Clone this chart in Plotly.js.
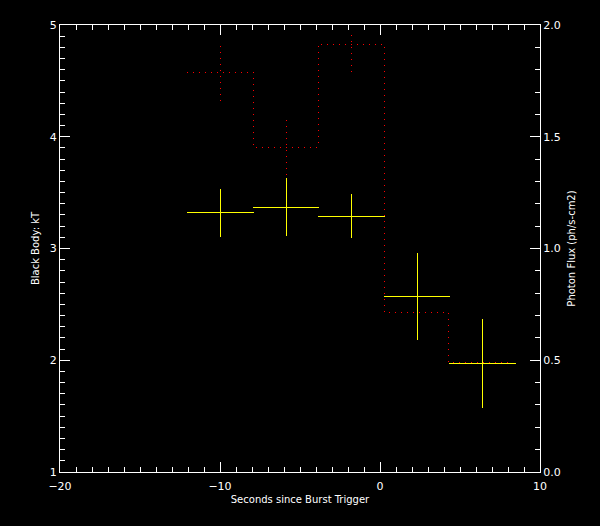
<!DOCTYPE html>
<html>
<head>
<meta charset="utf-8">
<script src="https://cdn.plot.ly/plotly-3.0.1.min.js"></script>
<style>
html,body{margin:0;padding:0;background:#000;}
#chart{width:600px;height:526px;}
.scatterlayer path{shape-rendering:crispEdges;}
</style>
</head>
<body>
<div id="chart"></div>
<script>
// Spectral fit: black body temperature (left axis)
const kTTime = [-9.98, -5.86, -1.79, 2.33, 6.39];
const kTTimeLo = [-12.06, -7.94, -3.875, 0.25, 4.31];
const kTTimeHi = [-7.9, -3.83, 0.31, 4.375, 8.5];
const kT = [3.32, 3.37, 3.29, 2.57, 1.97];
const kTHi = [3.53, 3.63, 3.49, 2.96, 2.37];
const kTLo = [3.10, 3.11, 3.09, 2.18, 1.57];

// Photon flux histogram (right axis); last two error bars are hidden under the crosses
const fluxEdges = [-12.04, -7.92, -3.85, 0.27, 4.3, 8.3];
const flux = [1.788, 1.453, 1.914, 0.713, 0.491];
const fluxCenter = [-9.98, -5.86, -1.79, 2.33, 6.39];
const fluxHi = [1.906, 1.575, 1.978, null, null];
const fluxLo = [1.661, 1.329, 1.788, null, null];

const xTitle = "Seconds since Burst Trigger";
const yTitle = "Black Body: kT";
const y2Title = "Photon Flux (ph/s-cm2)";

const red = '#ff0000', yellow = '#ffff00';

const histX = fluxEdges.slice();
const histY = flux.concat([flux[flux.length - 1]]);

const ebX = [], ebY = [];
fluxCenter.forEach((c, i) => {
  if (fluxHi[i] !== null) { ebX.push(c, c, null); ebY.push(fluxLo[i], fluxHi[i], null); }
});

const traces = [
  {x: histX, y: histY, yaxis: 'y2', type: 'scatter', mode: 'lines',
   line: {shape: 'hv', color: red, width: 1, dash: '1px,5px'}, hoverinfo: 'skip'},
  {x: ebX, y: ebY, yaxis: 'y2', type: 'scatter', mode: 'lines',
   line: {color: red, width: 1, dash: '1px,5px'}, hoverinfo: 'skip'},
  {x: kTTime, y: kT, type: 'scatter', mode: 'markers',
   marker: {size: 1, color: yellow},
   error_x: {type: 'data', symmetric: false,
     array: kTTimeHi.map((h, i) => h - kTTime[i]),
     arrayminus: kTTimeLo.map((l, i) => kTTime[i] - l),
     color: yellow, thickness: 1, width: 0},
   error_y: {type: 'data', symmetric: false,
     array: kTHi.map((h, i) => h - kT[i]),
     arrayminus: kTLo.map((l, i) => kT[i] - l),
     color: yellow, thickness: 1, width: 0}}
];

const font = {family: 'DejaVu Sans, sans-serif', size: 11, color: '#ffffff'};
const layout = {
  width: 600, height: 526,
  margin: {l: 60, r: 60, t: 25, b: 54},
  paper_bgcolor: '#000', plot_bgcolor: '#000',
  showlegend: false,
  font: font,
  xaxis: {range: [-20, 10], tick0: -20, dtick: 10, ticks: 'inside', ticklen: 10,
    tickcolor: '#fff', showline: true, linecolor: '#fff', linewidth: 1, mirror: 'ticks',
    showgrid: false, zeroline: false, tickfont: font, ticklabelstandoff: 4,
    minor: {ticks: 'inside', dtick: 1, ticklen: 5, tickcolor: '#fff', showgrid: false},
    title: {text: xTitle, font: {family: 'DejaVu Sans, sans-serif', size: 10, color: '#fff'}, standoff: 3}},
  yaxis: {range: [1, 5], tick0: 1, dtick: 1, ticks: 'inside', ticklen: 10,
    tickcolor: '#fff', showline: true, linecolor: '#fff', linewidth: 1, mirror: false,
    showgrid: false, zeroline: false, tickfont: font,
    minor: {ticks: 'inside', dtick: 0.1, ticklen: 5, tickcolor: '#fff', showgrid: false},
    title: {text: yTitle, font: {family: 'DejaVu Sans, sans-serif', size: 10, color: '#fff'}, standoff: 8}},
  yaxis2: {range: [0, 2], tick0: 0, dtick: 0.5, tickformat: '.1f', overlaying: 'y', side: 'right',
    ticks: 'inside', ticklen: 10, tickcolor: '#fff', showline: true, linecolor: '#fff', linewidth: 1,
    showgrid: false, zeroline: false, tickfont: font,
    minor: {ticks: 'inside', dtick: 0.1, ticklen: 5, tickcolor: '#fff', showgrid: false},
    title: {text: y2Title, font: {family: 'DejaVu Sans, sans-serif', size: 10, color: '#fff'}, standoff: 8}}
};

Plotly.newPlot('chart', traces, layout, {staticPlot: true, displayModeBar: false});
</script>
</body>
</html>
